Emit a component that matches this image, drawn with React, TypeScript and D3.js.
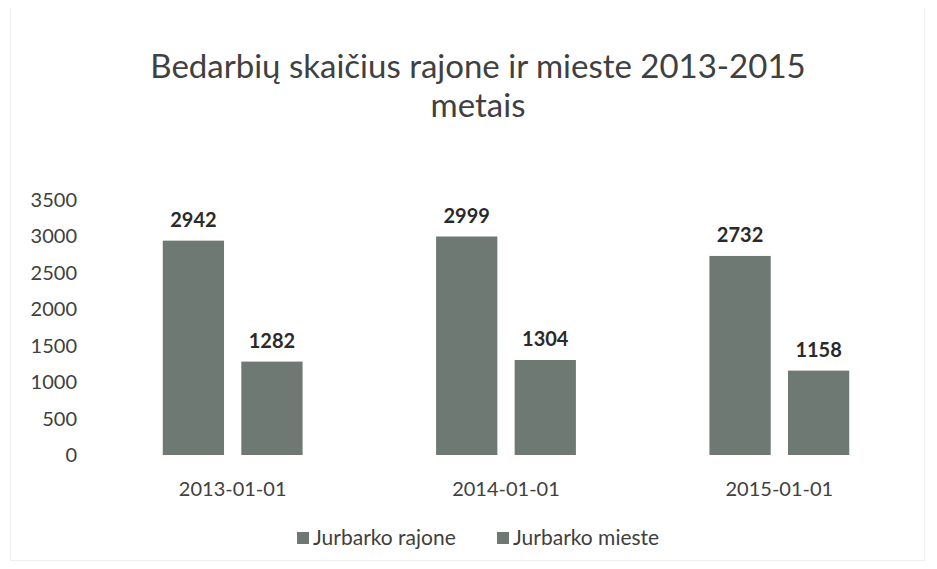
import React, { useRef, useEffect } from "react";
import * as d3 from "d3";

const categories = ["2013-01-01", "2014-01-01", "2015-01-01"];
const seriesNames = ["Jurbarko rajone", "Jurbarko mieste"];
const rajone = [2942, 2999, 2732];
const mieste = [1282, 1304, 1158];
const yTicks = [0, 500, 1000, 1500, 2000, 2500, 3000, 3500];

const FONT = "Lato, 'Open Sans', sans-serif";

const App = () => {
  const svgRef = useRef<SVGSVGElement>(null);

  useEffect(() => {
    const width = 937;
    const height = 569;
    const svg = d3.select(svgRef.current);
    svg.selectAll("*").remove();

    svg.append("rect").attr("width", width).attr("height", height).attr("fill", "#fff");
    svg
      .append("rect")
      .attr("x", 10.5)
      .attr("y", 4.5)
      .attr("width", 914)
      .attr("height", 556)
      .attr("fill", "none")
      .attr("stroke", "#eeeeee");

    // title
    const title = svg
      .append("text")
      .attr("text-anchor", "middle")
      .attr("font-family", FONT)
      .attr("font-size", 33)
      .attr("fill", "#404040");
    title.append("tspan").attr("x", 478).attr("y", 78).text("Bedarbių skaičius rajone ir mieste 2013-2015");
    title.append("tspan").attr("x", 478).attr("y", 117).text("metais");

    const x0 = d3.scaleBand().domain(categories).range([96, 916]).paddingInner(0).paddingOuter(0);
    const x1 = d3.scaleBand().domain(seriesNames).range([0, x0.bandwidth()]).paddingInner(0.22).paddingOuter(0.85);
    const y = d3.scaleLinear().domain([0, 3500]).range([455, 200]);

    // y axis labels
    svg
      .append("g")
      .selectAll("text")
      .data(yTicks)
      .enter()
      .append("text")
      .attr("x", 77)
      .attr("y", (d) => y(d) + 7)
      .attr("text-anchor", "end")
      .attr("font-family", FONT)
      .attr("font-size", 20)
      .attr("fill", "#404040")
      .text((d) => d);

    const rows = categories.map((c, i) => ({ c, vals: [rajone[i], mieste[i]] }));

    const groups = svg
      .selectAll(".grp")
      .data(rows)
      .enter()
      .append("g")
      .attr("transform", (d) => `translate(${x0(d.c)},0)`);

    groups
      .selectAll("rect")
      .data((d) => d.vals.map((v, j) => ({ v, s: seriesNames[j] })))
      .enter()
      .append("rect")
      .attr("x", (d) => x1(d.s)!)
      .attr("y", (d) => y(d.v))
      .attr("width", x1.bandwidth())
      .attr("height", (d) => y(0) - y(d.v))
      .attr("fill", "#6e7973");

    groups
      .selectAll(".lbl")
      .data((d) => d.vals.map((v, j) => ({ v, s: seriesNames[j] })))
      .enter()
      .append("text")
      .attr("x", (d) => x1(d.s)! + x1.bandwidth() / 2)
      .attr("y", (d) => y(d.v) - 14)
      .attr("text-anchor", "middle")
      .attr("font-family", FONT)
      .attr("font-size", 20)
      .attr("font-weight", "bold")
      .attr("fill", "#2a2a2a")
      .text((d) => d.v);

    // category labels
    svg
      .append("g")
      .selectAll("text")
      .data(categories)
      .enter()
      .append("text")
      .attr("x", (d) => x0(d)! + x0.bandwidth() / 2)
      .attr("y", 496)
      .attr("text-anchor", "middle")
      .attr("font-family", FONT)
      .attr("font-size", 20)
      .attr("fill", "#404040")
      .text((d) => d);

    // legend
    const legendX = [297, 497];
    const leg = svg
      .append("g")
      .selectAll("g")
      .data(seriesNames)
      .enter()
      .append("g")
      .attr("transform", (_, i) => `translate(${legendX[i]},538)`);
    leg
      .append("rect")
      .attr("x", 0)
      .attr("y", -6)
      .attr("width", 12)
      .attr("height", 12)
      .attr("fill", "#6e7973");
    leg
      .append("text")
      .attr("x", 16)
      .attr("y", 7)
      .attr("font-family", FONT)
      .attr("font-size", 21)
      .attr("fill", "#404040")
      .text((d) => d);
  }, []);

  return <svg ref={svgRef} width={937} height={569} style={{ display: "block", margin: -8 }}></svg>;
};

export default App;
